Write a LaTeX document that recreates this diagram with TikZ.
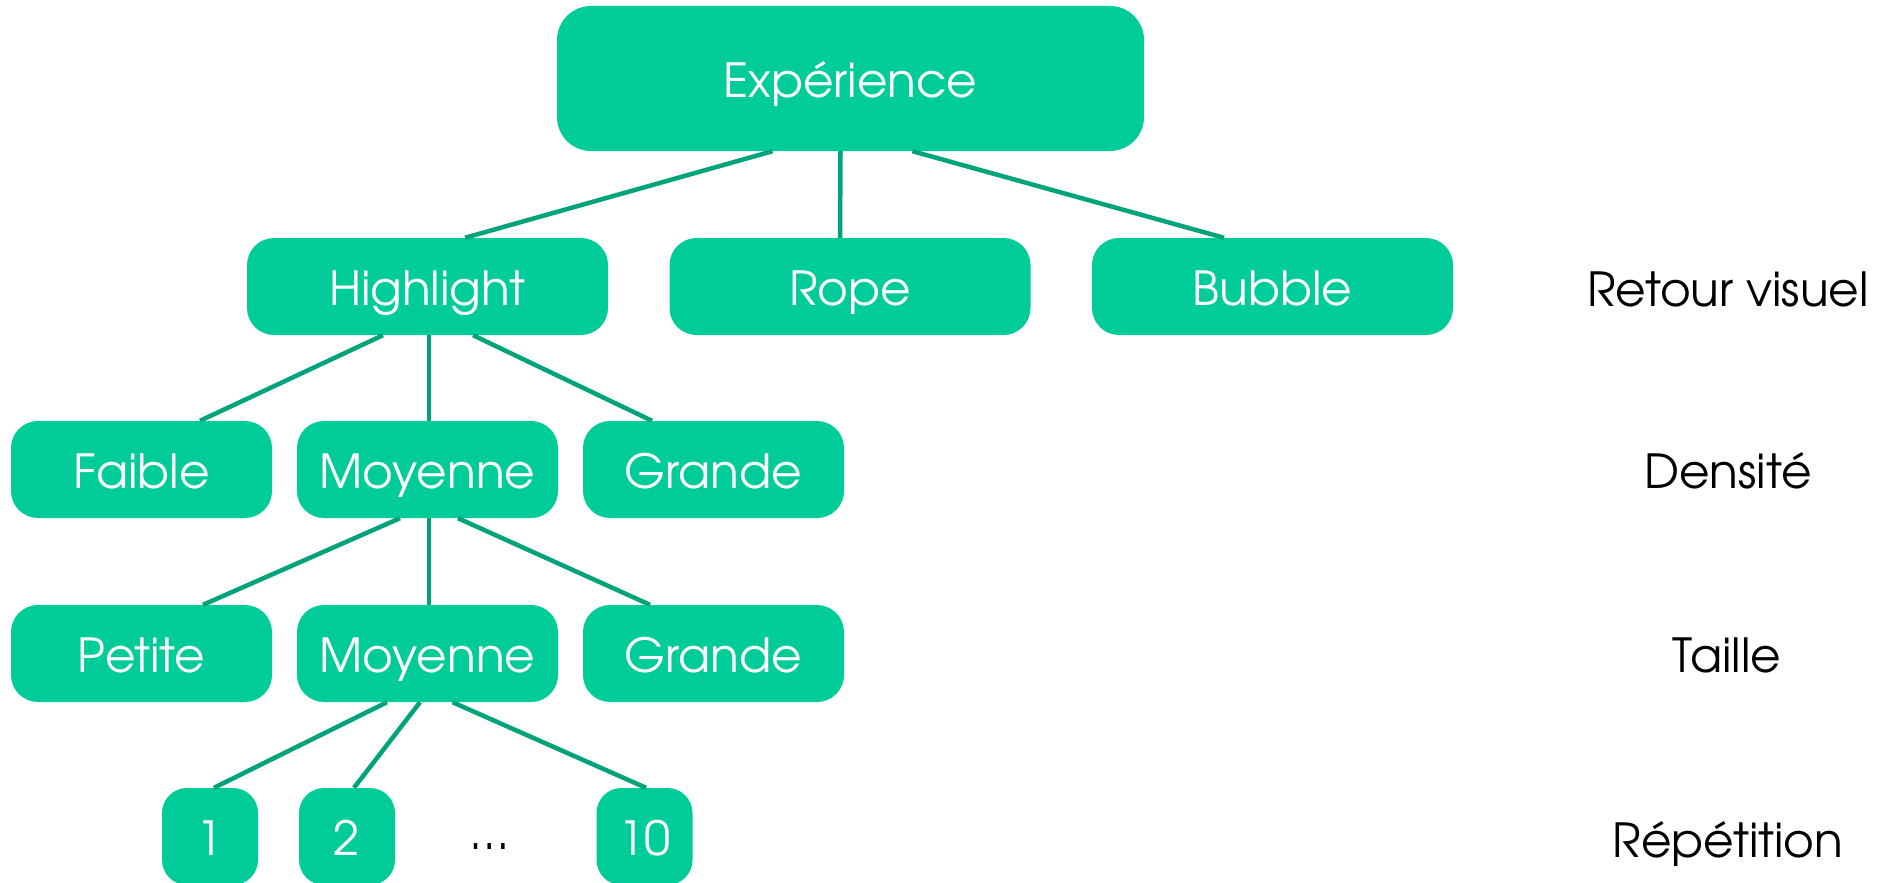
\documentclass[tikz,border=0pt]{standalone}
\usepackage{fontspec}
\setmainfont{TeX Gyre Adventor}
\definecolor{boxfill}{RGB}{0,204,153}
\definecolor{linkcol}{RGB}{0,163,122}
\begin{document}
\begin{tikzpicture}[x=1pt,y=-1pt,
  fnt/.style={font=\fontsize{47}{50}\selectfont, text height=38pt, text depth=0pt},
  box/.style={fnt, fill=boxfill, text=white, rounded corners=27pt, inner sep=0pt,
              minimum width=261pt, minimum height=97pt},
  wbox/.style={box, minimum width=361pt},
  topbox/.style={box, minimum width=587pt, minimum height=145pt, rounded corners=34pt},
  numbox/.style={box, minimum width=96pt, rounded corners=25pt},
  lbl/.style={fnt, text=black, inner sep=0pt},
  link/.style={draw=linkcol, line width=4.5pt}
]
\useasboundingbox (0,0) rectangle (1890,883);

% nodes
\node[topbox] (exp) at (850.5,78.5) {Expérience};
\node[wbox] (hl) at (427.5,286.5) {Highlight};
\node[wbox] (rope) at (850,286.5) {Rope};
\node[wbox] (bub) at (1272.5,286.5) {Bubble};

\node[box] (fai) at (141.5,469.5) {Faible};
\node[box] (moy1) at (427.5,469.5) {Moyenne};
\node[box] (gr1) at (713.5,469.5) {Grande};

\node[box] (pet) at (141.5,653.5) {Petite};
\node[box] (moy2) at (427.5,653.5) {Moyenne};
\node[box] (gr2) at (713.5,653.5) {Grande};

\node[numbox] (n1) at (210,836.5) {1};
\node[numbox] (n2) at (347,836.5) {2};
\node[lbl] (dots) at (490,830) {…};
\node[numbox] (n10) at (644.5,836.5) {10};

\node[lbl] (l1) at (1728,287) {Retour visuel};
\node[lbl] (l2) at (1728,469) {Densité};
\node[lbl] (l3) at (1727,653) {Taille};
\node[lbl] (l4) at (1728,838) {Répétition};

% connectors
\draw[link] ([xshift=-78pt]exp.south) -- ([xshift=37.5pt]hl.north);
\draw[link] ([xshift=-10pt]exp.south) -- ([xshift=-10pt]rope.north);
\draw[link] ([xshift=62pt]exp.south) -- ([xshift=-48.5pt]bub.north);

\draw[link] ([xshift=-44.5pt]hl.south) -- ([xshift=58.5pt]fai.north);
\draw[link] ([xshift=1.5pt]hl.south) -- ([xshift=1.5pt]moy1.north);
\draw[link] ([xshift=45.5pt]hl.south) -- ([xshift=-61.5pt]gr1.north);

\draw[link] ([xshift=-27.5pt]moy1.south) -- ([xshift=61.5pt]pet.north);
\draw[link] ([xshift=1.5pt]moy1.south) -- ([xshift=1.5pt]moy2.north);
\draw[link] ([xshift=30.5pt]moy1.south) -- ([xshift=-63.5pt]gr2.north);

\draw[link] ([xshift=-40.5pt]moy2.south) -- ([xshift=4pt]n1.north);
\draw[link] ([xshift=-7.5pt]moy2.south) -- ([xshift=7pt]n2.north);
\draw[link] ([xshift=25pt]moy2.south) -- ([xshift=1.5pt]n10.north);
\end{tikzpicture}
\end{document}
